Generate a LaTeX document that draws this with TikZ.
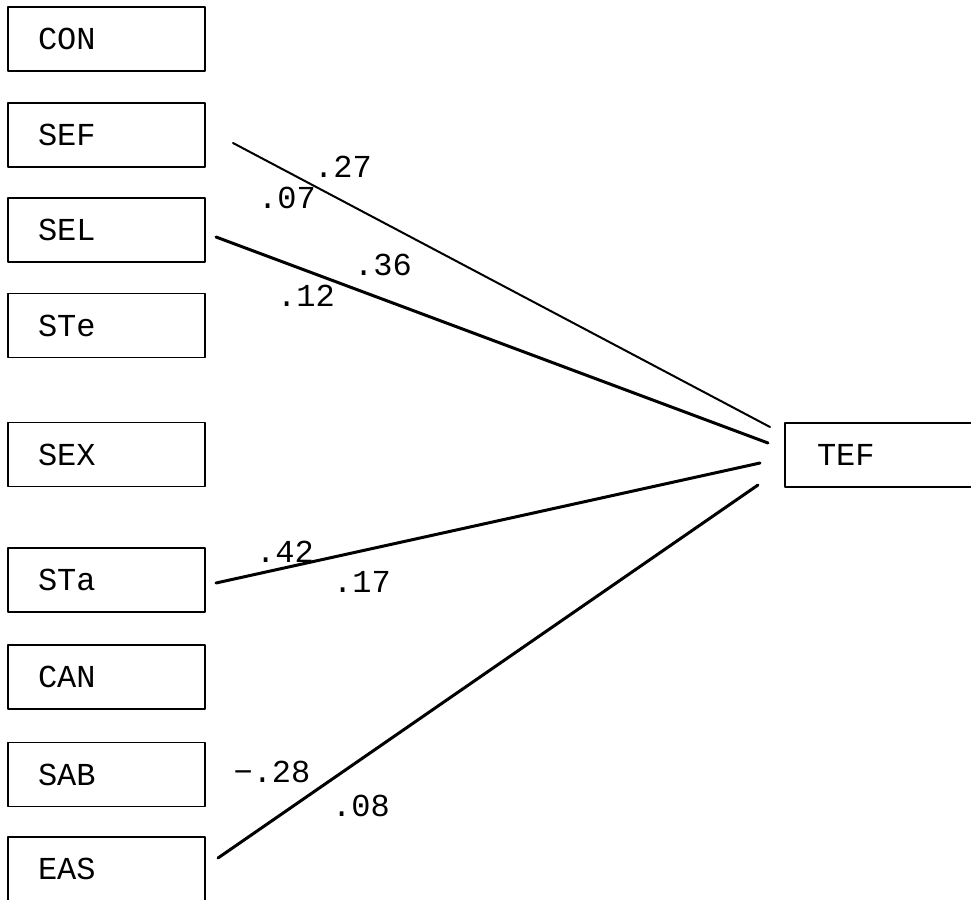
\documentclass[tikz,border=0pt]{standalone}
\usepackage{fontspec}
\setmainfont{Liberation Mono}
\begin{document}
\begin{tikzpicture}[x=1pt, y=-1pt, line join=round,
	var/.style={draw, line width=1.4pt, minimum height=64pt, text width=137pt,
		inner xsep=30pt, align=left, font=\fontsize{32}{34}\selectfont},
	path/.style={line width=3pt, line cap=round},
	coef/.style={font=\fontsize{32}{34}\selectfont}]
		\useasboundingbox (0,0) rectangle (971,899);
		%predictors
		\node[var] (con) at (106.5, 39){CON};
		\node[var] (sef) at (106.5, 135){SEF};
		\node[var] (sel) at (106.5, 230){SEL};
		\node[var] (ste) at (106.5, 325.5){STe};
		\node[var] (sex) at (106.5, 454.5){SEX};
		\node[var] (sta) at (106.5, 580){STa};
		\node[var] (can) at (106.5, 677){CAN};
		\node[var] (sab) at (106.5, 774.5){SAB};
		\node[var] (eas) at (106.5, 869){EAS};
		
		%outcome
		\node[var, text width=140pt, inner xsep=32pt] (tef) at (887, 455){TEF};
		
		%path ends
		\coordinate (sefout) at (233, 143);
		\coordinate (selout) at (216, 237);
		\coordinate (staout) at (216, 583);
		\coordinate (easout) at (218, 858);
		\coordinate (sefin) at (770, 427);
		\coordinate (selin) at (768, 443);
		\coordinate (stain) at (760, 463);
		\coordinate (easin) at (758, 485);
		
		\draw[path, line width=2pt] (sefout) -- (sefin);
		\draw[path] (selout) -- (selin);
		\draw[path] (staout) -- (stain);
		\draw[path] (easout) -- (easin);
		
		%coefficients
		\node[coef] (c1) at (343, 167){.27};
		\node[coef] (c2) at (287, 198){.07};
		\node[coef] (c3) at (383, 265){.36};
		\node[coef] (c4) at (306, 296){.12};
		\node[coef] (c5) at (285, 552){.42};
		\node[coef] (c6) at (362, 582){.17};
		\node[coef] (c7) at (272, 772){\char"2212.28};
		\node[coef] (c8) at (361, 806){.08};
		\end{tikzpicture}
\end{document}
